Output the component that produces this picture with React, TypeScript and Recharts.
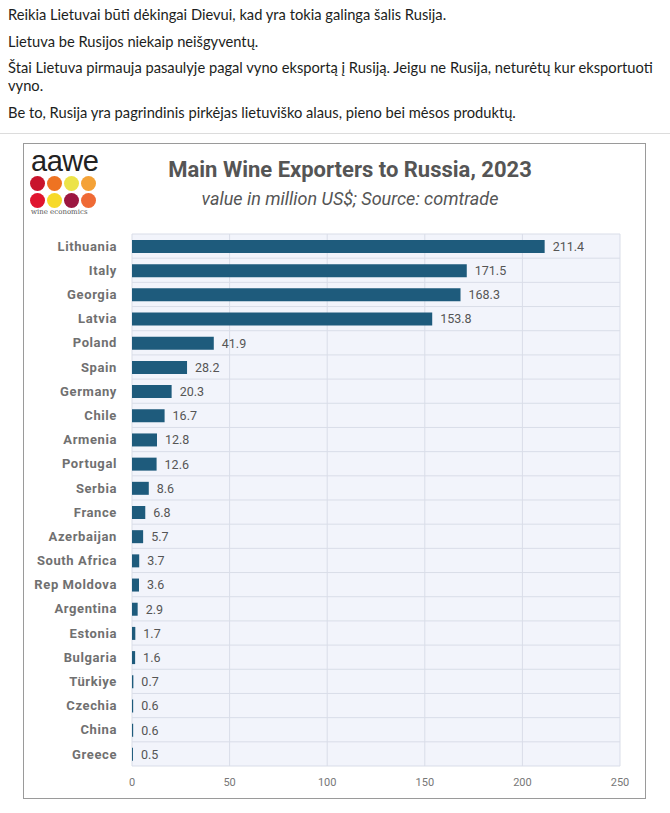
import React from 'react';
import { BarChart, Bar, XAxis, YAxis, CartesianGrid, LabelList } from 'recharts';

const countries = [
  'Lithuania', 'Italy', 'Georgia', 'Latvia', 'Poland', 'Spain', 'Germany', 'Chile',
  'Armenia', 'Portugal', 'Serbia', 'France', 'Azerbaijan', 'South Africa', 'Rep Moldova',
  'Argentina', 'Estonia', 'Bulgaria', 'Türkiye', 'Czechia', 'China', 'Greece',
];
const exportValues = [
  211.4, 171.5, 168.3, 153.8, 41.9, 28.2, 20.3, 16.7, 12.8, 12.6, 8.6, 6.8, 5.7, 3.7, 3.6,
  2.9, 1.7, 1.6, 0.7, 0.6, 0.6, 0.5,
];
const xTicks = [0, 50, 100, 150, 200, 250];

const postLines = [
  ['Reikia Lietuvai būti dėkingai Dievui, kad yra tokia galinga šalis Rusija.'],
  ['Lietuva be Rusijos niekaip neišgyventų.'],
  ['Štai Lietuva pirmauja pasaulyje pagal vyno eksportą į Rusiją. Jeigu ne Rusija, neturėtų kur eksportuoti', 'vyno.'],
  ['Be to, Rusija yra pagrindinis pirkėjas lietuviško alaus, pieno bei mėsos produktų.'],
];

const logoDots = ['#c8142c', '#ee7322', '#ece348', '#f4a237', '#e0142e', '#f7da2a', '#9c1740', '#ef6a35'];

const data = countries.map((name, i) => ({ name, value: exportValues[i] }));

const BAR = '#1e5b7c';

// horizontal grid lines sit between the rows, not through them
const rowBoundaries = ({ offset }: any) => {
  const n = countries.length;
  const step = offset.height / n;
  return Array.from({ length: n + 1 }, (_, i) => offset.top + i * step);
};

export default function App() {
  return (
    <div style={{ position: 'relative', width: 670, height: 813, background: '#fff', overflow: 'hidden' }}>
      <style>{`body{margin:0}`}</style>

      <div style={{ position: 'absolute', left: 8, top: 5, fontFamily: 'Lato, sans-serif', fontSize: 14.7, color: '#1c1e21', lineHeight: '18px', whiteSpace: 'nowrap' }}>
        {postLines.map((p, i) => (
          <div key={i} style={{ marginBottom: 8.5 }}>
            {p.map((l, j) => <div key={j}>{l}</div>)}
          </div>
        ))}
      </div>
      <div style={{ position: 'absolute', left: 0, top: 133, width: 670, height: 1, background: '#dcdcdc' }} />

      <div style={{ position: 'absolute', left: 23, top: 143, width: 621, height: 654, border: '1.5px solid #9a9a9a', background: '#fff' }} />

      {/* logo */}
      <div style={{ position: 'absolute', left: 31, top: 145, fontFamily: 'Liberation Sans, sans-serif', fontSize: 29, color: '#222', letterSpacing: -0.5 }}>aawe</div>
      <div style={{ position: 'absolute', left: 30, top: 176, width: 66, display: 'flex', flexWrap: 'wrap', gap: 2 }}>
        {logoDots.map((c, i) => (
          <div key={i} style={{ width: 15, height: 15, borderRadius: 8, background: c }} />
        ))}
      </div>
      <div style={{ position: 'absolute', left: 31, top: 208, fontFamily: 'DejaVu Serif, serif', fontSize: 7, color: '#555' }}>wine economics</div>

      <div style={{ position: 'absolute', left: 100, width: 500, top: 157, textAlign: 'center', fontFamily: 'Roboto, sans-serif', fontWeight: 700, fontSize: 22, color: '#555' }}>
        Main Wine Exporters to Russia, 2023
      </div>
      <div style={{ position: 'absolute', left: 100, width: 500, top: 188, textAlign: 'center', fontFamily: 'Roboto, sans-serif', fontStyle: 'italic', fontSize: 18, color: '#555' }}>
        value in million US$; Source: comtrade
      </div>

      <div style={{ position: 'absolute', left: 23, top: 143 }}>
        <BarChart
          width={623}
          height={656}
          data={data}
          layout="vertical"
          margin={{ top: 91, right: 26, left: 0, bottom: 13 }}
          barCategoryGap={0}
        >
          <CartesianGrid
            fill="#f2f4fb"
            stroke="#d9dde8"
            horizontalCoordinatesGenerator={rowBoundaries}
          />
          <XAxis
            type="number"
            domain={[0, 250]}
            ticks={xTicks}
            axisLine={false}
            tickLine={false}
            tickMargin={6}
            height={20}
            tick={{ fill: '#777', fontSize: 11, fontFamily: 'Roboto, sans-serif' }}
          />
          <YAxis
            type="category"
            dataKey="name"
            width={109}
            axisLine={false}
            tickLine={false}
            tickMargin={9}
            interval={0}
            tick={{ fill: '#707070', fontSize: 13, fontWeight: 700, letterSpacing: 0.6, fontFamily: 'Roboto, sans-serif' }}
          />
          <Bar dataKey="value" fill={BAR} barSize={13} isAnimationActive={false}>
            <LabelList
              dataKey="value"
              position="right"
              offset={8}
              formatter={(v: any) => Number(v).toFixed(1)}
              style={{ fill: '#555', fontSize: 12.5, fontFamily: 'Roboto, sans-serif' }}
            />
          </Bar>
        </BarChart>
      </div>
    </div>
  );
}
